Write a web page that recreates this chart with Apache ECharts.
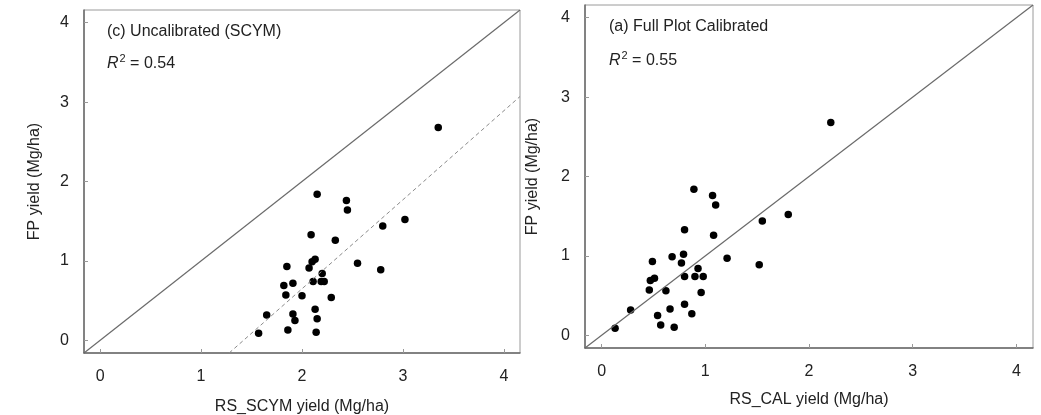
<!DOCTYPE html>
<html>
<head>
<meta charset="utf-8">
<script src="https://cdn.jsdelivr.net/npm/echarts@6/dist/echarts.min.js"></script>
<style>
html,body{margin:0;padding:0;background:#fff;}
#chart{width:1041px;height:415px;}
</style>
</head>
<body>
<div id="chart"></div>
<script>
// FP (field plot) yield, shared by both panels
const fpYield = [2.68,1.84,1.76,1.64,1.52,1.44,1.33,1.26,1.02,0.99,0.97,0.93,0.91,0.89,0.84,0.74,0.74,0.74,0.72,0.69,0.57,0.56,0.54,0.39,0.32,0.33,0.27,0.25,0.13,0.09,0.10];
// RS_SCYM (uncalibrated) yield
const rsScym = [3.35,2.15,2.44,2.45,3.02,2.80,2.09,2.33,2.13,2.10,2.55,1.85,2.07,2.78,2.20,2.11,2.19,2.22,1.91,1.82,1.84,2.00,2.29,2.13,1.65,1.91,2.15,1.93,1.86,1.57,2.14];
// RS_CAL (full plot calibrated) yield
const rsCal = [2.21,0.89,1.07,1.10,1.80,1.55,0.80,1.08,0.79,0.68,1.21,0.49,0.77,1.52,0.93,0.80,0.90,0.98,0.51,0.47,0.46,0.62,0.96,0.80,0.28,0.66,0.87,0.54,0.57,0.13,0.70];
// tick labels
const tickValues = [0,1,2,3,4];
// axis range
const axisMin = -0.16, axisMax = 4.16;
// dashed regression line in panel (c): y = slope*x + intercept
const regSlope = 1.121, regIntercept = -1.593;
const panelTitles = ['(c) Uncalibrated (SCYM)', '(a) Full Plot Calibrated'];
const r2Values = ['0.54', '0.55'];
const xNames = ['RS_SCYM yield (Mg/ha)', 'RS_CAL yield (Mg/ha)'];
const yName = 'FP yield (Mg/ha)';

const FONT = '"Liberation Sans", Arial, sans-serif';
const TXT = '#222';
const FS = 16;

function axis(idx, isX, name, gap) {
  return {
    type: 'value',
    gridIndex: idx,
    min: axisMin, max: axisMax,
    name: name,
    nameLocation: 'middle',
    nameGap: gap,
    nameTextStyle: {fontFamily: FONT, fontSize: FS, color: TXT},
    axisLine: {show: true, onZero: false, lineStyle: {color: '#6a6a6a', width: 1.5}},
    axisTick: {show: true, inside: true, length: 4, customValues: tickValues, lineStyle: {color: '#999'}},
    axisLabel: {show: true, margin: isX ? 16 : 15, fontFamily: FONT, fontSize: FS, color: TXT, customValues: tickValues,
      formatter: v => String(v)},
    splitLine: {show: false}
  };
}

const grids = [
  {left: 84, top: 10, width: 436, height: 343},
  {left: 585, top: 5, width: 448, height: 343}
];

const scymPts = rsScym.map((x, i) => [x, fpYield[i]]);
const calPts = rsCal.map((x, i) => [x, fpYield[i]]);

const regStartX = (axisMin - regIntercept) / regSlope;
const regLine = [[regStartX, axisMin], [axisMax, regSlope * axisMax + regIntercept]];
const oneToOne = [[axisMin, axisMin], [axisMax, axisMax]];

function titleGraphic(x, y, txt) {
  return {type: 'text', left: x, top: y, style: {text: txt, fontFamily: FONT, fontSize: FS, fill: TXT}};
}
function r2Graphic(x, y, val) {
  return {type: 'text', left: x, top: y, style: {
    text: '{r|R}{s|2}{n| = ' + val + '}',
    rich: {
      r: {fontFamily: FONT, fontSize: FS, fontStyle: 'italic', fill: TXT, verticalAlign: 'bottom'},
      s: {fontFamily: FONT, fontSize: 11, fill: TXT, verticalAlign: 'top', padding: [0, 0, 8, 1]},
      n: {fontFamily: FONT, fontSize: FS, fill: TXT, verticalAlign: 'bottom'}
    }
  }};
}

const chart = echarts.init(document.getElementById('chart'), null, {renderer: 'canvas'});
chart.setOption({
  animation: false,
  backgroundColor: '#fff',
  grid: grids.map(g => Object.assign({show: true, borderColor: '#9a9a9a', borderWidth: 1, backgroundColor: 'transparent',
    containLabel: false, outerBoundsMode: 'none'}, g)),
  xAxis: [axis(0, true, xNames[0], 46), axis(1, true, xNames[1], 44)],
  yAxis: [axis(0, false, yName, 41), axis(1, false, yName, 44)],
  graphic: [
    titleGraphic(107, 24, panelTitles[0]),
    r2Graphic(107, 53, r2Values[0]),
    titleGraphic(609, 19, panelTitles[1]),
    r2Graphic(609, 50, r2Values[1])
  ],
  series: [
    {type: 'line', xAxisIndex: 0, yAxisIndex: 0, data: oneToOne, symbol: 'none', lineStyle: {color: '#6a6a6a', width: 1.2}, silent: true},
    {type: 'line', xAxisIndex: 0, yAxisIndex: 0, data: regLine, symbol: 'none', lineStyle: {color: '#8a8a8a', width: 1, type: [4, 3]}, silent: true},
    {type: 'scatter', xAxisIndex: 0, yAxisIndex: 0, data: scymPts, symbol: 'circle', symbolSize: 7.5, itemStyle: {color: '#000', opacity: 1}},
    {type: 'line', xAxisIndex: 1, yAxisIndex: 1, data: oneToOne, symbol: 'none', lineStyle: {color: '#6a6a6a', width: 1.2}, silent: true},
    {type: 'scatter', xAxisIndex: 1, yAxisIndex: 1, data: calPts, symbol: 'circle', symbolSize: 7.5, itemStyle: {color: '#000', opacity: 1}}
  ]
});
</script>
</body>
</html>
